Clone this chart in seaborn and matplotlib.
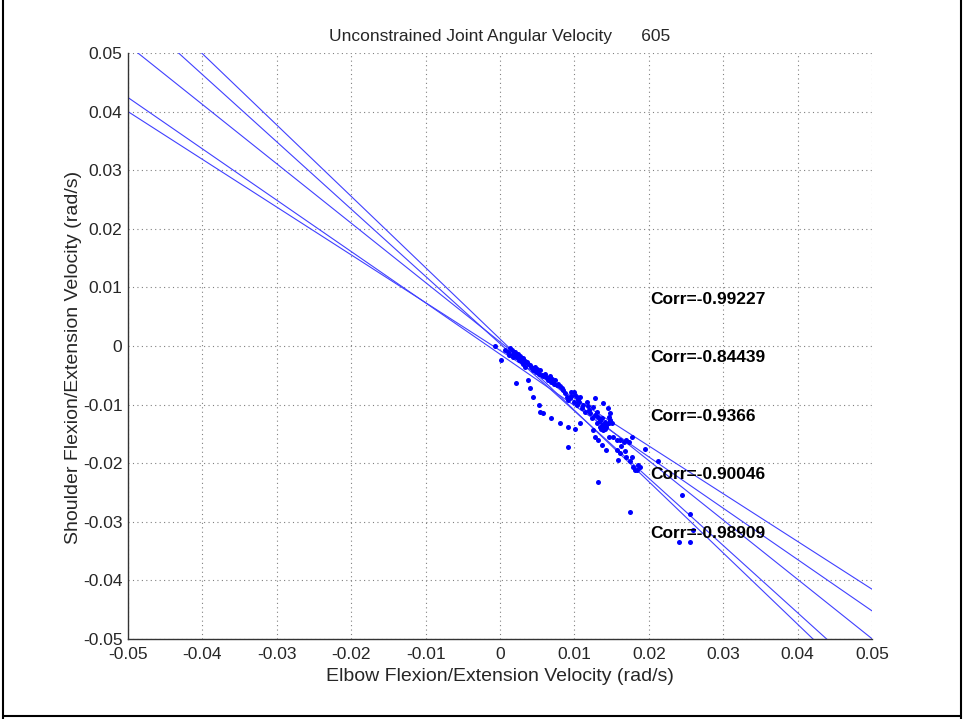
import numpy as np
import pandas as pd
import matplotlib
matplotlib.use("Agg")
import matplotlib.pyplot as plt
import seaborn as sns
from matplotlib.lines import Line2D

# ---------------- data ----------------
elbow_vel = [-0.0007, 0.0002, 0.0007, 0.0011, 0.0016, 0.0018, 0.0020, 0.0022, 0.0025, 0.0027,
             0.0022, 0.0029, 0.0031, 0.0034, 0.0036, 0.0038, 0.0040, 0.0043, 0.0045, 0.0047,
             0.0049, 0.0052, 0.0054, 0.0056, 0.0058, 0.0061, 0.0063, 0.0065, 0.0067, 0.0069,
             0.0072, 0.0074, 0.0076, 0.0078, 0.0081, 0.0040, 0.0038, 0.0045, 0.0052, 0.0054,
             0.0058, 0.0069, 0.0080, 0.0091, 0.0091, 0.0101, 0.0108, 0.0085, 0.0087, 0.0090,
             0.0092, 0.0094, 0.0096, 0.0099, 0.0101, 0.0103, 0.0105, 0.0108, 0.0110, 0.0112,
             0.0114, 0.0117, 0.0119, 0.0121, 0.0123, 0.0125, 0.0128, 0.0130, 0.0132, 0.0134,
             0.0137, 0.0139, 0.0141, 0.0143, 0.0146, 0.0148, 0.0150, 0.0125, 0.0128, 0.0132,
             0.0137, 0.0143, 0.0146, 0.0152, 0.0157, 0.0161, 0.0166, 0.0170, 0.0173, 0.0177,
             0.0157, 0.0161, 0.0159, 0.0170, 0.0175, 0.0179, 0.0181, 0.0186, 0.0188, 0.0184,
             0.0195, 0.0213, 0.0132, 0.0175, 0.0244, 0.0255, 0.0260, 0.0240, 0.0255,
             0.0013, 0.0020, 0.0026, 0.0031, 0.0137, 0.0139, 0.0141, 0.0146, 0.0139, 0.0134,
             0.0099, 0.0103, 0.0145, 0.0148,
             0.0012, 0.0017, 0.0024, 0.0033, 0.0042, 0.0050, 0.0060, 0.0070, 0.0083, 0.0095,
             0.0106, 0.0118, 0.0128, 0.0135, 0.0142, 0.0136, 0.0131, 0.0148, 0.0162, 0.0168,
             0.0178]
shoulder_vel = [0.0000, -0.0024, -0.0007, -0.0010, -0.0007, -0.0013, -0.0015, -0.0018, -0.0021, -0.0017,
                -0.0063, -0.0027, -0.0030, -0.0035, -0.0027, -0.0030, -0.0032, -0.0038, -0.0041, -0.0035,
                -0.0044, -0.0047, -0.0041, -0.0050, -0.0052, -0.0047, -0.0055, -0.0058, -0.0052, -0.0061,
                -0.0064, -0.0058, -0.0067, -0.0064, -0.0069, -0.0072, -0.0058, -0.0087, -0.0101, -0.0112,
                -0.0114, -0.0123, -0.0132, -0.0139, -0.0172, -0.0141, -0.0132, -0.0075, -0.0081, -0.0087,
                -0.0092, -0.0089, -0.0078, -0.0095, -0.0084, -0.0101, -0.0092, -0.0087, -0.0106, -0.0101,
                -0.0112, -0.0095, -0.0109, -0.0115, -0.0123, -0.0104, -0.0089, -0.0112, -0.0121, -0.0126,
                -0.0135, -0.0097, -0.0129, -0.0138, -0.0121, -0.0126, -0.0132, -0.0143, -0.0155, -0.0160,
                -0.0169, -0.0177, -0.0155, -0.0155, -0.0160, -0.0160, -0.0163, -0.0160, -0.0163, -0.0155,
                -0.0177, -0.0183, -0.0195, -0.0189, -0.0197, -0.0206, -0.0212, -0.0203, -0.0206, -0.0211,
                -0.0175, -0.0197, -0.0232, -0.0283, -0.0255, -0.0286, -0.0314, -0.0334, -0.0334,
                -0.0004, -0.0010, -0.0024, -0.0021, -0.0123, -0.0135, -0.0141, -0.0132, -0.0143, -0.0138,
                -0.0078, -0.0087, -0.0106, -0.0114,
                -0.0015, -0.0019, -0.0014, -0.0025, -0.0035, -0.0040, -0.0052, -0.0057, -0.0071, -0.0085,
                -0.0095, -0.0102, -0.0118, -0.0128, -0.0134, -0.0142, -0.0131, -0.0128, -0.0170, -0.0180,
                -0.0190]

fit_slopes = [-0.815, -0.876, -1.013, -1.148, -1.217]
fit_intercepts = [-0.00075, -0.0014, 0.0007, 0.0004, 0.0012]
corr_values = ["-0.99227", "-0.84439", "-0.9366", "-0.90046", "-0.98909"]
corr_y = [0.008, -0.002, -0.012, -0.022, -0.032]
corr_x = 0.0202
ticks = [-0.05, -0.04, -0.03, -0.02, -0.01, 0, 0.01, 0.02, 0.03, 0.04, 0.05]
tick_labels = ["-0.05", "-0.04", "-0.03", "-0.02", "-0.01", "0", "0.01", "0.02", "0.03", "0.04", "0.05"]
title_text = "Unconstrained Joint Angular Velocity      605"
xlabel_text = "Elbow Flexion/Extension Velocity (rad/s)"
ylabel_text = "Shoulder Flexion/Extension Velocity (rad/s)"

# ---------------- figure ----------------
sns.set_style("white")
plt.rcParams['font.family'] = ['Liberation Sans', 'DejaVu Sans']

fig = plt.figure(figsize=(9.64, 7.19), dpi=100)
fig.patch.set_facecolor("white")
ax = fig.add_axes([128 / 964, 80 / 719, 744 / 964, 586 / 719])

pts = pd.DataFrame({"x": elbow_vel, "y": shoulder_vel})
sns.scatterplot(data=pts, x="x", y="y", ax=ax, color=(0, 0, 1), s=13,
                marker="o", linewidth=0, zorder=3)

xgrid = np.linspace(-0.05, 0.05, 50)
for m, b in zip(fit_slopes, fit_intercepts):
    ln = pd.DataFrame({"x": xgrid, "y": m * xgrid + b})
    sns.lineplot(data=ln, x="x", y="y", ax=ax, color=(0.25, 0.25, 1.0), linewidth=0.8, zorder=2)

for cy, cv in zip(corr_y, corr_values):
    ax.text(corr_x, cy, "Corr=" + cv, fontsize=12.5, fontweight="bold",
            va="center", ha="left", color="black", zorder=4)

ax.set_xlim(-0.05, 0.05)
ax.set_ylim(-0.05, 0.05)
ax.set_xticks(ticks)
ax.set_yticks(ticks)
ax.set_xticklabels(tick_labels, fontsize=12.5)
ax.set_yticklabels(tick_labels, fontsize=12.5)
ax.tick_params(direction="in", length=5, width=1, color="#555555")
ax.tick_params(axis="y", pad=4)
ax.tick_params(axis="x", pad=6)
ax.grid(True, linestyle=(0, (1, 3)), color="#808080", linewidth=0.8)
for s in ["top", "right"]:
    ax.spines[s].set_visible(False)
for s in ["left", "bottom"]:
    ax.spines[s].set_color("#333333")
    ax.spines[s].set_linewidth(1.0)

ax.set_xlabel(xlabel_text, fontsize=14)
ax.set_ylabel(ylabel_text, fontsize=14)
ax.xaxis.set_label_coords(0.5, (639 - 668) / 586)
ax.yaxis.set_label_coords((82 - 128) / 744, (639 - 357) / 586)
ax.set_title(title_text, fontsize=12.5, pad=9)

# figure border
for xs, ys in [((3 / 964, 3 / 964), (0, 1)), ((961 / 964, 961 / 964), (0, 1)),
               ((3 / 964, 961 / 964), (3 / 719, 3 / 719))]:
    fig.add_artist(Line2D(xs, ys, color="black", linewidth=1.5, transform=fig.transFigure))

fig.savefig("out.png", dpi=100, facecolor="white")
